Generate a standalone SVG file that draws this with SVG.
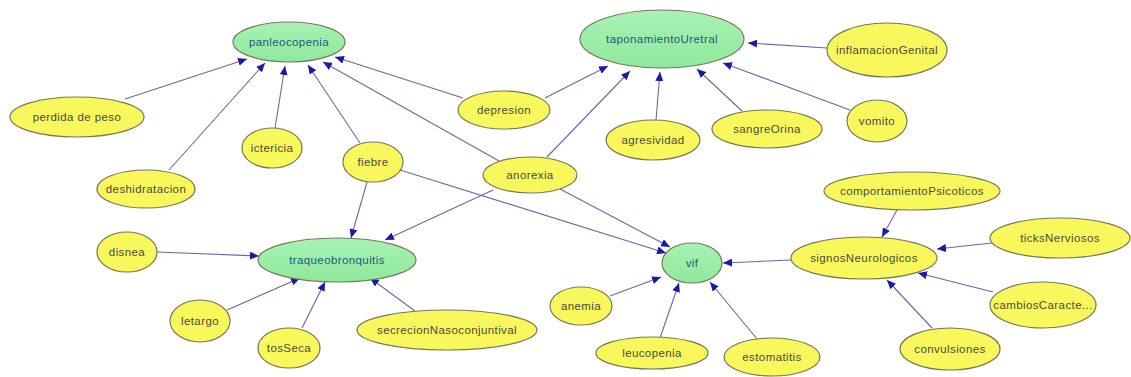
<svg xmlns="http://www.w3.org/2000/svg" width="1131" height="377" viewBox="0 0 1131 377">
  <style>
    .node ellipse { stroke: #77775a; stroke-width: 1.2; }
    .sym ellipse { fill: #f8f85c; }
    .dis ellipse { fill: url(#gr); }
    .node text { font-family: "Liberation Sans", Arial, sans-serif; font-size: 11.5px; letter-spacing: 0.4px; text-anchor: middle; dominant-baseline: central; }
    .sym text { fill: #4a4a3a; }
    .dis text { fill: #1f5a78; }
    #edges line { stroke: #6868a8; stroke-width: 1.1; marker-end: url(#arr); }
  </style>
  <defs>
    <linearGradient id="gr" x1="0" y1="0" x2="0" y2="1">
      <stop offset="0" stop-color="#a8f2b4"/>
      <stop offset="1" stop-color="#8fe89c"/>
    </linearGradient>
    <marker id="arr" markerUnits="userSpaceOnUse" markerWidth="10" markerHeight="8" refX="9" refY="4" orient="auto">
      <path d="M0,0 L9,4 L0,8 Z" fill="#1a1aa8"/>
    </marker>
  </defs>
  <rect width="1131" height="377" fill="#ffffff"/>

  <g id="edges">
    <line x1="125" y1="99" x2="247" y2="59"/>
    <line x1="169" y1="170" x2="265" y2="63"/>
    <line x1="275" y1="128" x2="285" y2="66"/>
    <line x1="360" y1="143" x2="308" y2="65"/>
    <line x1="499" y1="161" x2="323" y2="62"/>
    <line x1="463" y1="98" x2="335" y2="57"/>
    <line x1="545" y1="98" x2="608" y2="66"/>
    <line x1="547" y1="157" x2="630" y2="71"/>
    <line x1="656" y1="120" x2="660" y2="72"/>
    <line x1="742" y1="111" x2="697" y2="69"/>
    <line x1="850" y1="110" x2="723" y2="63"/>
    <line x1="827" y1="48" x2="748" y2="43"/>
    <line x1="367" y1="182" x2="351" y2="238"/>
    <line x1="493" y1="190" x2="385" y2="240"/>
    <line x1="400" y1="170" x2="666" y2="253"/>
    <line x1="560" y1="189" x2="670" y2="247"/>
    <line x1="157" y1="252" x2="259" y2="256"/>
    <line x1="227" y1="310" x2="300" y2="278"/>
    <line x1="302" y1="328" x2="325" y2="282"/>
    <line x1="415" y1="311" x2="370" y2="278"/>
    <line x1="610" y1="296" x2="661" y2="277"/>
    <line x1="660" y1="338" x2="679" y2="283"/>
    <line x1="757" y1="339" x2="710" y2="282"/>
    <line x1="792" y1="260" x2="723" y2="263"/>
    <line x1="897" y1="210" x2="882" y2="237"/>
    <line x1="992" y1="243" x2="937" y2="249"/>
    <line x1="993" y1="292" x2="918" y2="273"/>
    <line x1="932" y1="328" x2="887" y2="280"/>
  </g>

  <g id="panleocopenia" class="node dis"><ellipse cx="289" cy="42" rx="56" ry="20"/><text x="289" y="42">panleocopenia</text></g>
  <g id="taponamientoUretral" class="node dis"><ellipse cx="662" cy="39" rx="82" ry="29"/><text x="662" y="39">taponamientoUretral</text></g>
  <g id="traqueobronquitis" class="node dis"><ellipse cx="337" cy="260" rx="79" ry="22"/><text x="337" y="260">traqueobronquitis</text></g>
  <g id="vif" class="node dis"><ellipse cx="692" cy="263" rx="30" ry="20"/><text x="692" y="263">vif</text></g>

  <g id="inflamacionGenital" class="node sym"><ellipse cx="887" cy="50" rx="60" ry="27"/><text x="887" y="50">inflamacionGenital</text></g>
  <g id="perdidaDePeso" class="node sym"><ellipse cx="77" cy="117" rx="67" ry="20"/><text x="77" y="117">perdida de peso</text></g>
  <g id="depresion" class="node sym"><ellipse cx="504" cy="110" rx="46" ry="19"/><text x="504" y="110">depresion</text></g>
  <g id="agresividad" class="node sym"><ellipse cx="653" cy="140" rx="47" ry="20"/><text x="653" y="140">agresividad</text></g>
  <g id="sangreOrina" class="node sym"><ellipse cx="767" cy="129" rx="55" ry="19"/><text x="767" y="129">sangreOrina</text></g>
  <g id="vomito" class="node sym"><ellipse cx="877" cy="121" rx="30" ry="21"/><text x="877" y="121">vomito</text></g>
  <g id="ictericia" class="node sym"><ellipse cx="272" cy="148" rx="30" ry="20"/><text x="272" y="148">ictericia</text></g>
  <g id="fiebre" class="node sym"><ellipse cx="373" cy="162" rx="30" ry="20"/><text x="373" y="162">fiebre</text></g>
  <g id="deshidratacion" class="node sym"><ellipse cx="146" cy="189" rx="49" ry="19"/><text x="146" y="189">deshidratacion</text></g>
  <g id="anorexia" class="node sym"><ellipse cx="530" cy="175" rx="47" ry="18"/><text x="530" y="175">anorexia</text></g>
  <g id="disnea" class="node sym"><ellipse cx="127" cy="252" rx="30" ry="20"/><text x="127" y="252">disnea</text></g>
  <g id="letargo" class="node sym"><ellipse cx="200" cy="321" rx="30" ry="21"/><text x="200" y="321">letargo</text></g>
  <g id="tosSeca" class="node sym"><ellipse cx="289" cy="348" rx="31" ry="20"/><text x="289" y="348">tosSeca</text></g>
  <g id="secrecionNasoconjuntival" class="node sym"><ellipse cx="447" cy="330" rx="90" ry="20"/><text x="447" y="330">secrecionNasoconjuntival</text></g>
  <g id="anemia" class="node sym"><ellipse cx="581" cy="306" rx="31" ry="19"/><text x="581" y="306">anemia</text></g>
  <g id="leucopenia" class="node sym"><ellipse cx="652" cy="353" rx="56" ry="16"/><text x="652" y="353">leucopenia</text></g>
  <g id="estomatitis" class="node sym"><ellipse cx="772" cy="357" rx="48" ry="19"/><text x="772" y="357">estomatitis</text></g>
  <g id="signosNeurologicos" class="node sym"><ellipse cx="864" cy="258" rx="73" ry="21"/><text x="864" y="258">signosNeurologicos</text></g>
  <g id="comportamientoPsicoticos" class="node sym"><ellipse cx="912" cy="191" rx="88" ry="19"/><text x="912" y="191">comportamientoPsicoticos</text></g>
  <g id="ticksNerviosos" class="node sym"><ellipse cx="1060" cy="238" rx="70" ry="20"/><text x="1060" y="238">ticksNerviosos</text></g>
  <g id="cambiosCaracter" class="node sym"><ellipse cx="1043" cy="305" rx="53" ry="23"/><text x="1043" y="305">cambiosCaracte...</text></g>
  <g id="convulsiones" class="node sym"><ellipse cx="950" cy="349" rx="50" ry="21"/><text x="950" y="349">convulsiones</text></g>
</svg>
